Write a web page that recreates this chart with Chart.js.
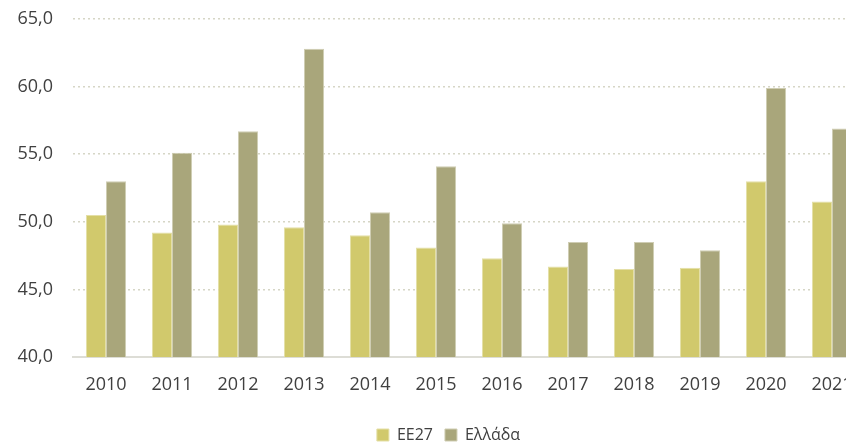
<!DOCTYPE html>
<html>
<head>
<meta charset="utf-8">
<script src="https://cdn.jsdelivr.net/npm/chart.js@4"></script>
<style>
  html, body { margin: 0; padding: 0; overflow: hidden; background: #fff; }
  #wrap { width: 898px; height: 444px; }
</style>
</head>
<body>
<div id="wrap"><canvas id="chart"></canvas></div>
<script>
const years = ["2010", "2011", "2012", "2013", "2014", "2015", "2016", "2017", "2018", "2019", "2020", "2021"];
const ee27 = [50.5, 49.2, 49.8, 49.6, 49.0, 48.1, 47.3, 46.7, 46.5, 46.6, 53.0, 51.5];
const ellada = [53.0, 55.1, 56.7, 62.8, 50.7, 54.1, 49.9, 48.5, 48.5, 47.9, 59.9, 56.9];
const yTicks = [40, 45, 50, 55, 60, 65];

const tickFont = { family: "'Open Sans', 'Noto Sans', sans-serif", size: 18 };
const legendFont = { family: "'Open Sans', 'Noto Sans', sans-serif", size: 16 };

// the legend sits a little right of the canvas centre in the original
const legendShift = {
    id: "legendShift",
    afterLayout(chart) {
        chart.legend.left += 16;
        chart.legend.right += 16;
    }
};

new Chart(document.getElementById("chart"), {
    type: "bar",
    data: {
        labels: years,
        datasets: [
            { label: "ΕΕ27", data: ee27, backgroundColor: "#D1C96C", borderColor: "#E4DFA6", borderWidth: 1 },
            { label: "Ελλάδα", data: ellada, backgroundColor: "#A9A67B", borderColor: "#CFCDB3", borderWidth: 1 }
        ]
    },
    options: {
        responsive: true,
        maintainAspectRatio: false,
        animation: false,
        layout: { padding: { top: 19, right: 33, left: 0, bottom: -9 } },
        datasets: { bar: { categoryPercentage: 0.61, barPercentage: 1.0 } },
        plugins: {
            tooltip: { enabled: false },
            legend: {
                position: "bottom",
                labels: {
                    color: "#404040",
                    font: legendFont,
                    boxWidth: 12,
                    boxHeight: 12,
                    padding: 12
                }
            }
        },
        scales: {
            x: {
                grid: { display: false },
                border: { display: true, color: "#DDDDD6", width: 2 },
                afterFit: (scale) => { scale.height = 58; },
                ticks: { color: "#404040", font: tickFont, padding: 9 }
            },
            y: {
                min: 40,
                max: 65,
                afterBuildTicks: (scale) => { scale.ticks = yTicks.map(v => ({ value: v })); },
                afterFit: (scale) => { scale.width = 73; },
                border: { display: false, dash: [2, 3] },
                grid: { color: "#D6D6C6", lineWidth: 1.5, drawTicks: true, tickLength: 20, tickColor: "rgba(0,0,0,0)" },
                ticks: {
                    color: "#404040",
                    font: tickFont,
                    padding: 0,
                    callback: (v) => v.toFixed(1).replace(".", ",")
                }
            }
        }
    },
    plugins: [legendShift]
});
</script>
</body>
</html>
